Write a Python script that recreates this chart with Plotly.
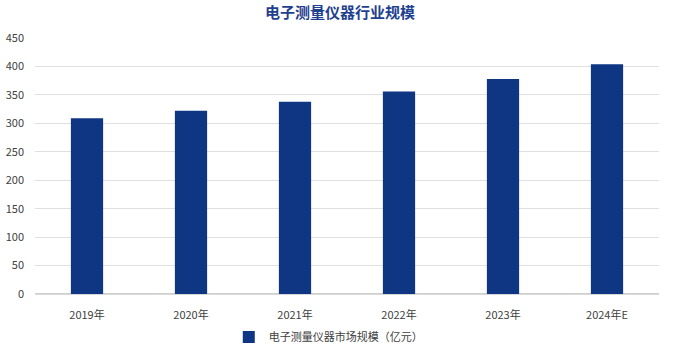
import plotly.graph_objects as go

categories = ["2019年", "2020年", "2021年", "2022年", "2023年", "2024年E"]
values = [309, 322, 338, 356, 378, 404]
series_name = "电子测量仪器市场规模（亿元）"
title_text = "电子测量仪器行业规模"

fig = go.Figure()
fig.add_trace(go.Bar(
    x=categories, y=values, name=series_name,
    marker=dict(color="#0f3683", line=dict(width=0)),
))

font_family = "Microsoft YaHei, Noto Sans CJK SC, sans-serif"
fig.update_layout(
    width=680, height=353,
    margin=dict(l=35, r=21, t=38, b=59),
    paper_bgcolor="white", plot_bgcolor="white",
    bargap=0.69,
    showlegend=True,
    title=dict(text="<b>" + title_text + "</b>", x=0.5, xanchor="center", y=0.963, yanchor="middle",
               font=dict(family=font_family, size=15, color="#1f3f8f")),
    legend=dict(orientation="h", x=0.47, xanchor="center", yref="container", y=0.045, yanchor="middle",
                font=dict(family=font_family, size=11, color="#404040"), itemwidth=30),
    font=dict(family=font_family, size=11, color="#404040"),
)
fig.update_yaxes(range=[0, 450], dtick=50, showgrid=True, gridcolor="#e0e0e0", gridwidth=1,
                 zeroline=True, zerolinecolor="#d0d0d0", showline=False, automargin=False,
                 tickfont=dict(size=11, color="#404040"), ticks="", ticklabelstandoff=10)
fig.update_xaxes(showline=True, linecolor="#d9d9d9", ticks="", tickfont=dict(size=11, color="#404040"),
                 ticklabelstandoff=11, automargin=False)

fig.write_html("out.html")
